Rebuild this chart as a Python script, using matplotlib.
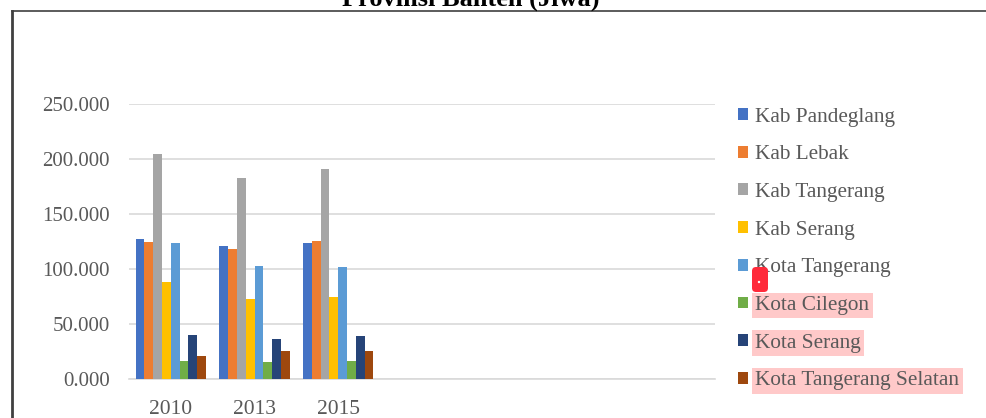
import matplotlib
matplotlib.use("Agg")
import matplotlib.pyplot as plt
import matplotlib.patches as mpatches
from matplotlib.lines import Line2D
from matplotlib.transforms import IdentityTransform
import numpy as np

# data jumlah penduduk (jiwa) per kabupaten/kota
tahun = ["2010", "2013", "2015", "", "", "", ""]
wilayah = ["Kab Pandeglang", "Kab Lebak", "Kab Tangerang", "Kab Serang",
           "Kota Tangerang", "Kota Cilegon", "Kota Serang", "Kota Tangerang Selatan"]
kab_pandeglang = [127000, 121200, 123600]
kab_lebak = [124800, 118200, 125700]
kab_tangerang = [204500, 183000, 190600]
kab_serang = [88400, 72500, 74300]
kota_tangerang = [123300, 102500, 101800]
kota_cilegon = [16400, 15200, 16400]
kota_serang = [40000, 36100, 39400]
kota_tangsel = [21200, 25200, 25200]
y_ticks = [0, 50000, 100000, 150000, 200000, 250000]
y_labels = ["0.000", "50.000", "100.000", "150.000", "200.000", "250.000"]

semua_seri = [kab_pandeglang, kab_lebak, kab_tangerang, kab_serang,
              kota_tangerang, kota_cilegon, kota_serang, kota_tangsel]
warna = ["#4472C4", "#ED7D31", "#A5A5A5", "#FFC000",
         "#5B9BD5", "#70AD47", "#264478", "#9E480E"]

W, H = 987, 418
plt.rcParams['font.family'] = ['Liberation Serif', 'DejaVu Serif']

fig = plt.figure(figsize=(W / 100, H / 100), dpi=100)
ax = fig.add_axes([129 / W, 39 / H, (715 - 129) / W, 275 / H])

lebar = 0.105
x = np.arange(len(semua_seri[0]))
for i, (seri, c) in enumerate(zip(semua_seri, warna)):
    ax.bar(x + (i - 3.5) * lebar, seri, width=lebar, color=c, label=wilayah[i], zorder=3)

ax.set_xlim(-0.5, len(tahun) - 0.5)
ax.set_ylim(0, 250000)
ax.set_xticks(np.arange(len(tahun)))
ax.set_xticklabels(tahun)
ax.set_yticks(y_ticks)
ax.set_yticklabels(y_labels)
ax.tick_params(axis='both', length=0, labelsize=15, colors='#595959')
ax.tick_params(axis='y', pad=14)
ax.tick_params(axis='x', pad=15, labelsize=15.5)
ax.grid(axis='y', color='#D9D9D9', linewidth=1.2, zorder=0)
for s in ['top', 'right', 'left']:
    ax.spines[s].set_visible(False)
ax.spines['bottom'].set_color('#D9D9D9')
ax.spines['bottom'].set_linewidth(1.2)

# legenda
leg = ax.legend(loc='center left', bbox_to_anchor=(738 / W, 1 - 249 / H),
                bbox_transform=fig.transFigure, frameon=False, fontsize=15.3,
                handlelength=0.48, handleheight=0.48, handletextpad=0.33,
                labelspacing=0.88, borderpad=0, borderaxespad=0)
for t in leg.get_texts():
    t.set_color('#595959')
for t in leg.get_texts()[5:]:
    t.set_bbox(dict(facecolor='#FFC9C9', edgecolor='none', pad=2.5))

# judul (terpotong di atas)
fig.text(471 / W, 1 - 6 / H, "Provinsi Banten (Jiwa)", ha='center', va='baseline',
         fontsize=19, fontweight='bold', color='black')

# bingkai luar
fig.add_artist(Line2D([12 / W, 12 / W], [0, 1 - 10.5 / H], transform=fig.transFigure,
                      color='#404040', linewidth=2))
fig.add_artist(Line2D([12 / W, 1.01], [1 - 10.5 / H, 1 - 10.5 / H], transform=fig.transFigure,
                      color='#404040', linewidth=1.2))

# penanda merah
penanda = mpatches.FancyBboxPatch((752, H - 292), 16, 25,
                                  boxstyle="round,pad=0,rounding_size=4",
                                  facecolor='#FF2A3A', edgecolor='none',
                                  transform=IdentityTransform())
fig.add_artist(penanda)
fig.add_artist(mpatches.Circle((759, H - 282), 1.2, facecolor='white', edgecolor='none',
                               transform=IdentityTransform()))

fig.savefig("out.png", dpi=100)
plt.close(fig)
